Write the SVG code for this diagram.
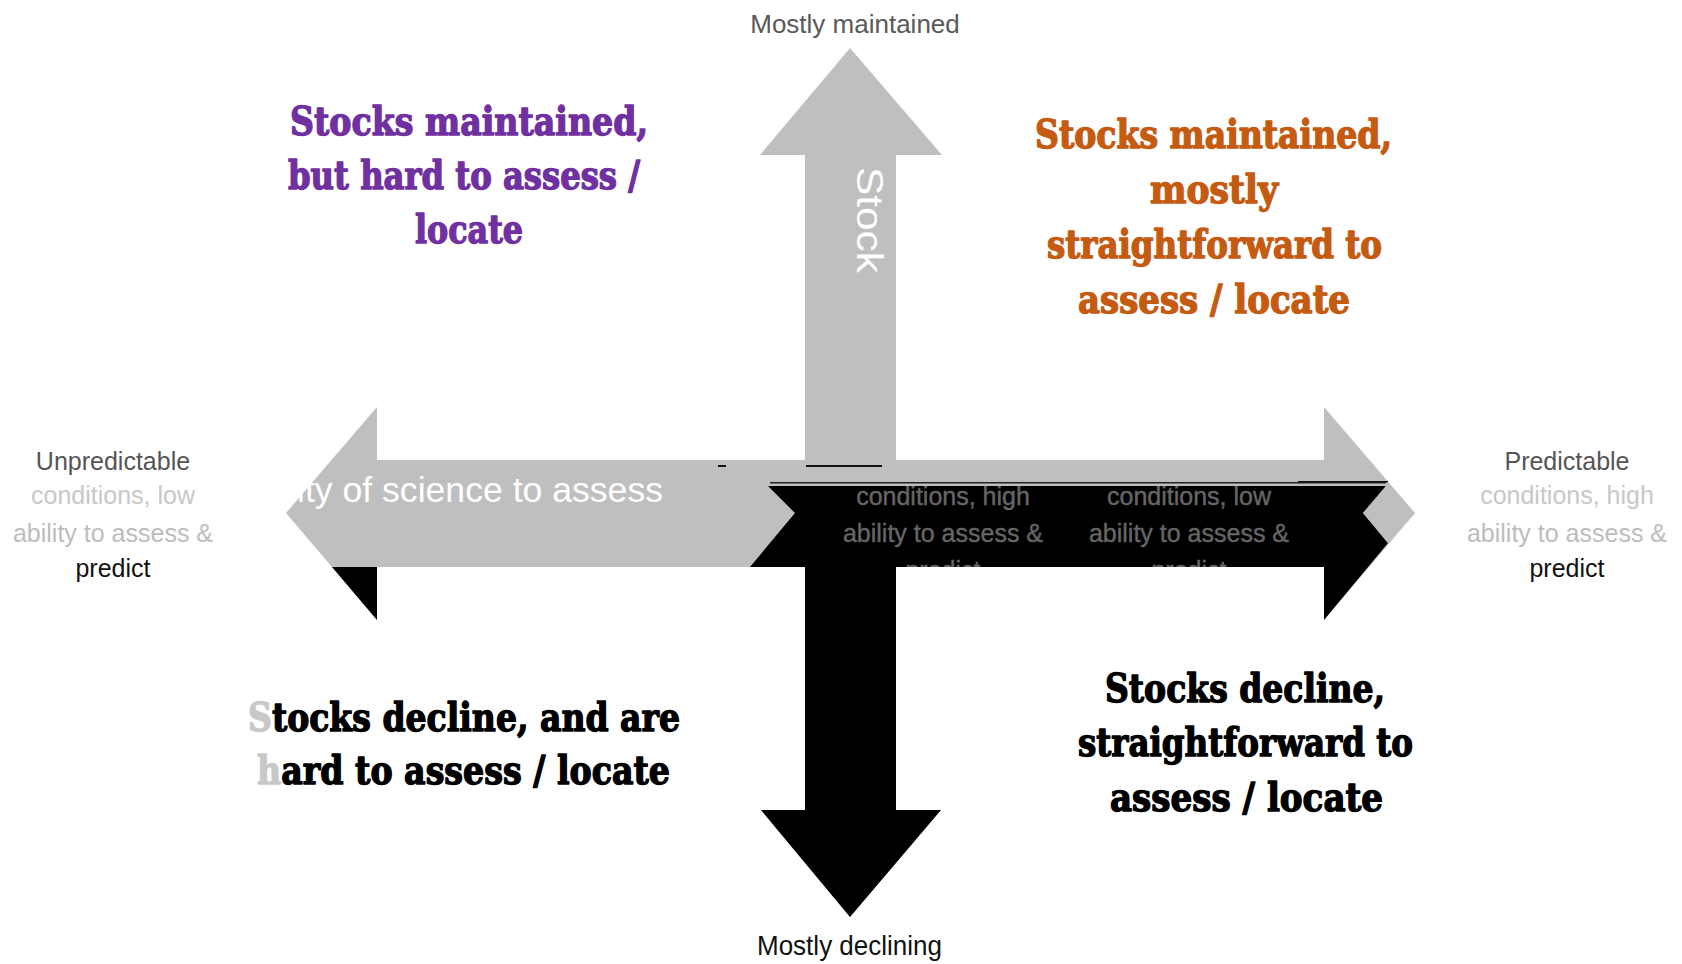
<svg xmlns="http://www.w3.org/2000/svg" width="1682" height="964" viewBox="0 0 1682 964">
  <style>
    .slab { font-family: "DejaVu Serif Condensed", "DejaVu Serif", serif; font-weight: bold; font-size: 39px; stroke-width: 1.3px; stroke-linejoin: round; }
    .sans { font-family: "Liberation Sans", Arial, sans-serif; }
    .side { font-size: 25px; text-anchor: middle; }
    .ghost { font-size: 25px; text-anchor: middle; fill: #666; stroke: #666; stroke-width: 0.4px; }
    .grey { fill: #bfbfbf; }
    .blk { fill: #000; }
  </style>
  <defs>
    <clipPath id="shaftClip">
      <rect x="700" y="486" width="700" height="81"/>
    </clipPath>
  </defs>
  <rect width="1682" height="964" fill="#fff"/>

  <g id="connectors">
    <polygon class="grey" points="850,48 942,155 896,155 896,460 1324,460 1324,407 1415,513 1324,620 1324,567 896,567 896,810 941,810 850,917 761,810 805,810 805,567 377,567 377,620 286,513 377,407 377,460 805,460 805,155 760,155"/>
    <polygon class="blk" points="768,486 1386,486 1363,513 1388,543 1324,620 1324,567 896,567 896,810 941,810 850,917 761,810 805,810 805,567 750,567 795,513"/>
    <polygon class="blk" points="332,567 377,567 377,620"/>
    <polygon class="grey" points="1386,486 1363,513 1388,543 1415,513"/>
    <rect x="770" y="482" width="616" height="1.5" fill="#222"/>
    <rect x="806" y="465" width="76" height="2" fill="#111"/>
    <rect x="718" y="465" width="8" height="2" fill="#111"/>
    <rect x="1298" y="481" width="90" height="1.5" fill="#111"/>
  </g>

  <g id="axis-labels" class="sans">
    <text x="855" y="33" font-size="26" fill="#595959" text-anchor="middle">Mostly maintained</text>
    <text x="757" y="955" font-size="28" fill="#111" textLength="185" lengthAdjust="spacingAndGlyphs">Mostly declining</text>
    <text transform="translate(857,167) rotate(90)" font-size="37" fill="#fff" textLength="106" lengthAdjust="spacingAndGlyphs">Stock</text>
    <text x="297" y="502" font-size="35" fill="#fff" textLength="366" lengthAdjust="spacingAndGlyphs">ity of science to assess</text>
  </g>

  <g id="ghost-labels" class="sans" clip-path="url(#shaftClip)">
    <text class="ghost" x="943" y="505">conditions, high</text>
    <text class="ghost" x="943" y="542">ability to assess &amp;</text>
    <text class="ghost" x="943" y="579">predict</text>
    <text class="ghost" x="1189" y="505">conditions, low</text>
    <text class="ghost" x="1189" y="542">ability to assess &amp;</text>
    <text class="ghost" x="1189" y="579">predict</text>
  </g>

  <g id="left-label" class="sans side">
    <text x="113" y="470" fill="#555">Unpredictable</text>
    <text x="113" y="504" fill="#c8c8c8">conditions, low</text>
    <text x="113" y="542" fill="#bdbdbd">ability to assess &amp;</text>
    <text x="113" y="577" fill="#111">predict</text>
  </g>

  <g id="right-label" class="sans side">
    <text x="1567" y="470" fill="#555">Predictable</text>
    <text x="1567" y="504" fill="#c8c8c8">conditions, high</text>
    <text x="1567" y="542" fill="#bdbdbd">ability to assess &amp;</text>
    <text x="1567" y="577" fill="#111">predict</text>
  </g>

  <g id="quadrant-top-left" class="slab" fill="#7030a0" stroke="#7030a0">
    <text x="290" y="135" textLength="358" lengthAdjust="spacingAndGlyphs">Stocks maintained,</text>
    <text x="288" y="189" textLength="352" lengthAdjust="spacingAndGlyphs">but hard to assess /</text>
    <text x="415" y="243" textLength="108" lengthAdjust="spacingAndGlyphs">locate</text>
  </g>

  <g id="quadrant-top-right" class="slab" fill="#c55a11" stroke="#c55a11">
    <text x="1035" y="148" textLength="357" lengthAdjust="spacingAndGlyphs">Stocks maintained,</text>
    <text x="1150" y="203" textLength="128" lengthAdjust="spacingAndGlyphs">mostly</text>
    <text x="1047" y="258" textLength="335" lengthAdjust="spacingAndGlyphs">straightforward to</text>
    <text x="1078" y="313" textLength="272" lengthAdjust="spacingAndGlyphs">assess / locate</text>
  </g>

  <g id="quadrant-bottom-left" class="slab" fill="#000" stroke="#000">
    <text x="248" y="731" textLength="432" lengthAdjust="spacingAndGlyphs"><tspan fill="#c8c8c8" stroke="#c8c8c8">S</tspan>tocks decline, and are</text>
    <text x="257" y="784" textLength="413" lengthAdjust="spacingAndGlyphs"><tspan fill="#c8c8c8" stroke="#c8c8c8">h</tspan>ard to assess / locate</text>
  </g>

  <g id="quadrant-bottom-right" class="slab" fill="#000" stroke="#000">
    <text x="1105" y="702" textLength="280" lengthAdjust="spacingAndGlyphs">Stocks decline,</text>
    <text x="1078" y="756" textLength="335" lengthAdjust="spacingAndGlyphs">straightforward to</text>
    <text x="1110" y="811" textLength="273" lengthAdjust="spacingAndGlyphs">assess / locate</text>
  </g>
</svg>
